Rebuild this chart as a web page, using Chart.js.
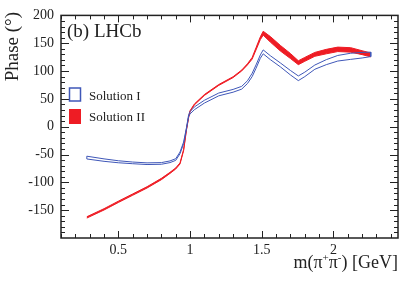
<!DOCTYPE html>
<html lang="en">
<head>
<meta charset="UTF-8">
<title>Phase vs m(pi+ pi-)</title>
<script src="https://cdn.jsdelivr.net/npm/chart.js"></script>
<style>
  body { margin: 0; background: #fff; }
  #phaseChart { display: block; }
</style>
</head>
<body>
<canvas id="phaseChart" width="419" height="283"></canvas>
<script>
  // m(pi+pi-) sampling points [GeV]
  const mass = [0.28, 0.4, 0.5, 0.6, 0.7, 0.8, 0.86, 0.9, 0.93, 0.955, 0.975, 0.99, 1.0, 1.03,
                1.1, 1.2, 1.3, 1.36, 1.4, 1.433, 1.46, 1.49, 1.51, 1.56, 1.63, 1.7, 1.755,
                1.8, 1.87, 1.95, 2.03, 2.12, 2.2, 2.26];

  // Solution I: phase (deg) and band half-width
  const phaseSolI = [-55.5, -60, -63, -65, -66.5, -66, -63, -59, -47, -29, -3, 20, 25, 33,
                     45, 58, 64.5, 70, 80, 93, 108, 126, 134.5, 124, 111, 97, 87,
                     94, 107, 116, 123, 126.5, 128.5, 130];
  const errSolI = [2.5, 2.2, 1.8, 1.5, 1.5, 1.5, 1.5, 1.5, 1.5, 1.5, 1.5, 1.5, 2, 2.5,
                   2.5, 2.5, 2.5, 2.5, 2.5, 3, 3, 3, 3.5, 3.5, 3.5, 4, 4.2,
                   4, 3.8, 4.5, 5, 5.5, 5, 4];

  // Solution II: phase (deg) and band half-width
  const phaseSolII = [-163, -148.5, -135, -122, -109, -94, -83, -75, -66, -42, -5, 17, 28, 40,
                      57, 75, 89, 101, 112, 123, 140, 159, 168, 157, 141, 127, 115,
                      121, 130, 135, 139, 138, 133, 129];
  const errSolII = [1.2, 1.2, 1.2, 1.2, 1.2, 1.2, 1, 1, 1, 1, 1, 0.8, 0.8, 0.8,
                    0.8, 0.8, 0.8, 0.8, 1, 1.5, 2, 2.5, 3.5, 5, 5, 4.5, 3.5,
                    3.5, 3.5, 4, 4, 4, 3.5, 3.5];

  const xTicks = [0.5, 1, 1.5, 2];
  const yTicks = [-150, -100, -50, 0, 50, 100, 150, 200];

  const blue = '#3f57b8';
  const red = '#ee1c24';
  const serif = "'Liberation Serif', 'Times New Roman', serif";

  // closed outline of a band: upper edge forward, lower edge back
  function bandOutline(centre, err) {
    const upper = mass.map((m, i) => ({ x: m, y: centre[i] + err[i] }));
    const lower = mass.map((m, i) => ({ x: m, y: centre[i] - err[i] })).reverse();
    return upper.concat(lower, [upper[0]]);
  }
  function edge(centre, err, sign) {
    return mass.map((m, i) => ({ x: m, y: centre[i] + sign * err[i] }));
  }

  // frame, inward ticks, labels and legend
  const decorations = {
    id: 'decorations',
    afterDraw(chart) {
      const { ctx, chartArea: a, scales: { x, y } } = chart;
      ctx.save();
      ctx.strokeStyle = '#222';
      ctx.lineWidth = 1;
      ctx.beginPath();
      for (let i = 1; i <= 24; i++) {
        const px = Math.round(x.getPixelForValue(i / 10)) + 0.5;
        const len = i % 5 === 0 ? 7 : 4;
        ctx.moveTo(px, a.bottom); ctx.lineTo(px, a.bottom - len);
        ctx.moveTo(px, a.top); ctx.lineTo(px, a.top + len);
      }
      for (let v = -190; v < 200; v += 10) {
        const py = Math.round(y.getPixelForValue(v)) + 0.5;
        const len = v % 50 === 0 ? 8 : 4;
        ctx.moveTo(a.left, py); ctx.lineTo(a.left + len, py);
        ctx.moveTo(a.right, py); ctx.lineTo(a.right - len, py);
      }
      ctx.stroke();
      ctx.lineWidth = 1.5;
      ctx.strokeRect(a.left, a.top, a.right - a.left, a.bottom - a.top);

      ctx.fillStyle = '#222';
      ctx.textBaseline = 'alphabetic';
      ctx.font = '19px ' + serif;
      ctx.textAlign = 'left';
      ctx.fillText('(b) LHCb', a.left + 6, 37);

      // y title
      ctx.save();
      ctx.translate(17.5, 12);
      ctx.rotate(-Math.PI / 2);
      ctx.textAlign = 'right';
      ctx.fillText('Phase (°)', 0, 0);
      ctx.restore();

      // x title with superscripts, right aligned to the frame
      const big = '18px ' + serif, small = '11px ' + serif;
      const parts = [['m(π', big, 0], ['+', small, -7], ['π', big, 0], ['-', small, -7], [') [GeV]', big, 0]];
      let total = 0;
      parts.forEach(p => { ctx.font = p[1]; total += ctx.measureText(p[0]).width; });
      let cx = a.right - total;
      parts.forEach(p => {
        ctx.font = p[1];
        ctx.fillText(p[0], cx, 268 + p[2]);
        cx += ctx.measureText(p[0]).width;
      });

      // legend
      ctx.lineWidth = 1.5;
      ctx.strokeStyle = blue;
      ctx.strokeRect(69.5, 88, 11, 13);
      ctx.fillStyle = red;
      ctx.fillRect(69, 109, 12, 15);
      ctx.fillStyle = '#222';
      ctx.font = '13px ' + serif;
      ctx.fillText('Solution I', 89, 100);
      ctx.fillText('Solution II', 89, 121);
      ctx.restore();
    }
  };

  new Chart(document.getElementById('phaseChart'), {
    type: 'scatter',
    data: {
      datasets: [
        {
          label: 'Solution I',
          data: bandOutline(phaseSolI, errSolI),
          showLine: true,
          borderColor: blue,
          borderWidth: 1,
          pointRadius: 0,
          fill: false
        },
        {
          label: 'Solution II low',
          data: edge(phaseSolII, errSolII, -1),
          showLine: true,
          borderColor: red,
          borderWidth: 1,
          pointRadius: 0,
          fill: false
        },
        {
          label: 'Solution II',
          data: edge(phaseSolII, errSolII, 1),
          showLine: true,
          borderColor: red,
          backgroundColor: red,
          borderWidth: 1,
          pointRadius: 0,
          fill: '-1'
        }
      ]
    },
    options: {
      responsive: false,
      animation: false,
      devicePixelRatio: 1,
      layout: { padding: { top: 15, right: 21, left: 0, bottom: 0 } },
      plugins: { legend: { display: false }, tooltip: { enabled: false } },
      scales: {
        x: {
          type: 'linear',
          min: 0.1,
          max: 2.45,
          grid: { display: false, drawTicks: false },
          border: { display: false },
          afterBuildTicks: s => { s.ticks = xTicks.map(v => ({ value: v })); },
          afterFit: s => { s.height = 45; },
          ticks: {
            font: { family: serif, size: 14 },
            color: '#222',
            padding: 4,
            maxRotation: 0,
            autoSkip: false,
            callback: v => String(v)
          }
        },
        y: {
          min: -200,
          max: 200,
          grid: { display: false, drawTicks: false },
          border: { display: false },
          afterBuildTicks: s => { s.ticks = yTicks.map(v => ({ value: v })); },
          afterFit: s => { s.width = 61; },
          ticks: {
            font: { family: serif, size: 14 },
            color: '#222',
            padding: 7,
            autoSkip: false,
            callback: v => String(v)
          }
        }
      }
    },
    plugins: [decorations]
  });
</script>
</body>
</html>
